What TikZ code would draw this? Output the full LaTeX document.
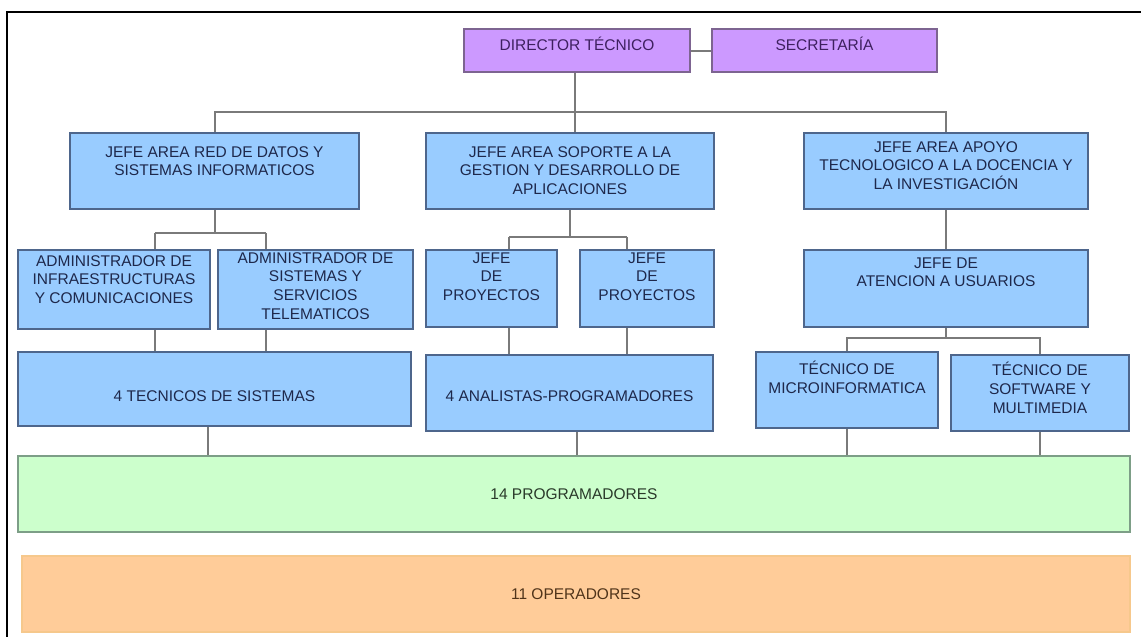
\documentclass[tikz,border=0pt]{standalone}
\usepackage{fontspec}
\setmainfont{Liberation Sans}
\usepackage{xcolor}
\usetikzlibrary{positioning}

\definecolor{dirfill}{RGB}{204,153,255}
\definecolor{dirline}{RGB}{125,100,145}
\definecolor{dirtext}{RGB}{62,32,95}
\definecolor{bluefill}{RGB}{153,204,255}
\definecolor{blueline}{RGB}{78,102,140}
\definecolor{bluetext}{RGB}{30,40,75}
\definecolor{greenfill}{RGB}{204,255,204}
\definecolor{greenline}{RGB}{125,158,135}
\definecolor{greentext}{RGB}{42,58,42}
\definecolor{orangefill}{RGB}{255,204,153}
\definecolor{orangeline}{RGB}{246,200,140}
\definecolor{orangetext}{RGB}{80,52,26}
\definecolor{linkgray}{RGB}{122,122,122}

\begin{document}
\begin{tikzpicture}[x=1pt,y=-1pt,
  box/.style={draw=#1line,fill=#1fill,line width=1.6pt,inner sep=0pt},
  lbl/.style={inner sep=0pt,align=center,text=#1text,font=\fontsize{15.5}{18.7}\selectfont},
  link/.style={draw=linkgray,line width=2pt}]

\useasboundingbox (0,0) rectangle (1141,637);
\draw[line width=2.5pt] (7,637) -- (7,12) -- (1141,12);

% boxes, row by row
\node[box=dir,minimum width=226pt,minimum height=43pt] (dir) at (577,50.5) {};
\node[box=dir,minimum width=225pt,minimum height=43pt] (sec) at (824.5,50.5) {};

\node[box=blue,minimum width=289pt,minimum height=76pt] (areaRed) at (214.5,171) {};
\node[box=blue,minimum width=288pt,minimum height=76pt] (areaSop) at (570,171) {};
\node[box=blue,minimum width=284pt,minimum height=76pt] (areaApo) at (946,171) {};

\node[box=blue,minimum width=192pt,minimum height=79pt] (adminInf) at (114,289.5) {};
\node[box=blue,minimum width=195pt,minimum height=79pt] (adminSis) at (315.5,289.5) {};
\node[box=blue,minimum width=131pt,minimum height=77pt] (proyA) at (491.5,288.5) {};
\node[box=blue,minimum width=134pt,minimum height=77pt] (proyB) at (647,288.5) {};
\node[box=blue,minimum width=284pt,minimum height=77pt] (atencion) at (946,288.5) {};

\node[box=blue,minimum width=393pt,minimum height=74pt] (tecSis) at (214.5,389) {};
\node[box=blue,minimum width=287pt,minimum height=76pt] (analistas) at (569.5,393) {};
\node[box=blue,minimum width=182pt,minimum height=76pt] (tecMicro) at (847,390) {};
\node[box=blue,minimum width=178pt,minimum height=76pt] (tecSoft) at (1040,393) {};

\node[box=green,minimum width=1112pt,minimum height=76pt] (prog) at (574,494) {};
\node[box=orange,minimum width=1108pt,minimum height=76pt] (oper) at (576,594) {};

% texts
\node[lbl=dir,below=9pt of dir.north] (dirTxt) {DIRECTOR TÉCNICO};
\node[lbl=dir,below=9pt of sec.north] (secTxt) {SECRETARÍA};

\node[lbl=blue,below=14pt of areaRed.north] (areaRedTxt) {JEFE AREA RED DE DATOS Y\\SISTEMAS INFORMATICOS};
\node[lbl=blue,below=14pt of areaSop.north] (areaSopTxt) {JEFE AREA SOPORTE A LA\\GESTION Y  DESARROLLO DE\\APLICACIONES};
\node[lbl=blue,below=9pt of areaApo.north] (areaApoTxt) {JEFE AREA APOYO\\TECNOLOGICO A LA DOCENCIA Y\\LA INVESTIGACIÓN};

\node[lbl=blue,below=6pt of adminInf.north] (adminInfTxt) {ADMINISTRADOR DE\\INFRAESTRUCTURAS\\Y COMUNICACIONES};
\node[lbl=blue,below=3pt of adminSis.north] (adminSisTxt) {ADMINISTRADOR DE\\SISTEMAS Y\\SERVICIOS\\TELEMATICOS};
\node[lbl=blue,below=3pt of proyA.north] (proyATxt) {JEFE\\DE\\PROYECTOS};
\node[lbl=blue,below=3pt of proyB.north] (proyBTxt) {JEFE\\DE\\PROYECTOS};
\node[lbl=blue,below=8pt of atencion.north] (atencionTxt) {JEFE DE\\ATENCION A USUARIOS};

\node[lbl=blue,below=39pt of tecSis.north] (tecSisTxt) {4 TECNICOS DE SISTEMAS};
\node[lbl=blue,below=36pt of analistas.north] (analistasTxt) {4 ANALISTAS-PROGRAMADORES};
\node[lbl=blue,below=10pt of tecMicro.north] (tecMicroTxt) {TÉCNICO DE\\MICROINFORMATICA};
\node[lbl=blue,below=8pt of tecSoft.north] (tecSoftTxt) {TÉCNICO DE\\SOFTWARE Y\\MULTIMEDIA};

\node[lbl=green] (progTxt) at (prog) {14 PROGRAMADORES};
\node[lbl=orange] (operTxt) at (oper) {11 OPERADORES};

% connectors
\path
  (575,112) coordinate (bus)
  (155,233) coordinate (infTap)
  (266,233) coordinate (sisTap)
  (509,237) coordinate (proyATap)
  (627,237) coordinate (proyBTap)
  (208,440) coordinate (tecSisTap)
  (577,440) coordinate (analistasTap);

\draw[link] (dir.east) -- (sec.west);
\draw[link] (bus |- dir.south) -- (bus |- areaSop.north);
\draw[link] (areaRed.north) |- (bus) -| (areaApo.north);

\draw[link] (areaRed.south) -- (areaRed.south |- infTap);
\draw[link] (infTap) -- (sisTap);
\draw[link] (infTap) -- (infTap |- adminInf.north);
\draw[link] (sisTap) -- (sisTap |- adminSis.north);
\draw[link] (infTap |- adminInf.south) -- (infTap |- tecSis.north);
\draw[link] (sisTap |- adminSis.south) -- (sisTap |- tecSis.north);

\draw[link] (areaSop.south) -- (areaSop.south |- proyATap);
\draw[link] (proyATap) -- (proyBTap);
\draw[link] (proyATap) -- (proyATap |- proyA.north);
\draw[link] (proyBTap) -- (proyBTap |- proyB.north);
\draw[link] (proyATap |- proyA.south) -- (proyATap |- analistas.north);
\draw[link] (proyBTap |- proyB.south) -- (proyBTap |- analistas.north);

\draw[link] (areaApo.south) -- (atencion.north);
\draw[link] (atencion.south) -- ++(0,10) coordinate (atenTap);
\draw[link] (tecMicro.north) |- (atenTap) -| (tecSoft.north);

\draw[link] (tecSisTap |- tecSis.south) -- (tecSisTap |- prog.north);
\draw[link] (analistasTap |- analistas.south) -- (analistasTap |- prog.north);
\foreach \n in {tecMicro,tecSoft}
  \draw[link] (\n.south) -- (\n.south |- prog.north);

\end{tikzpicture}
\end{document}
